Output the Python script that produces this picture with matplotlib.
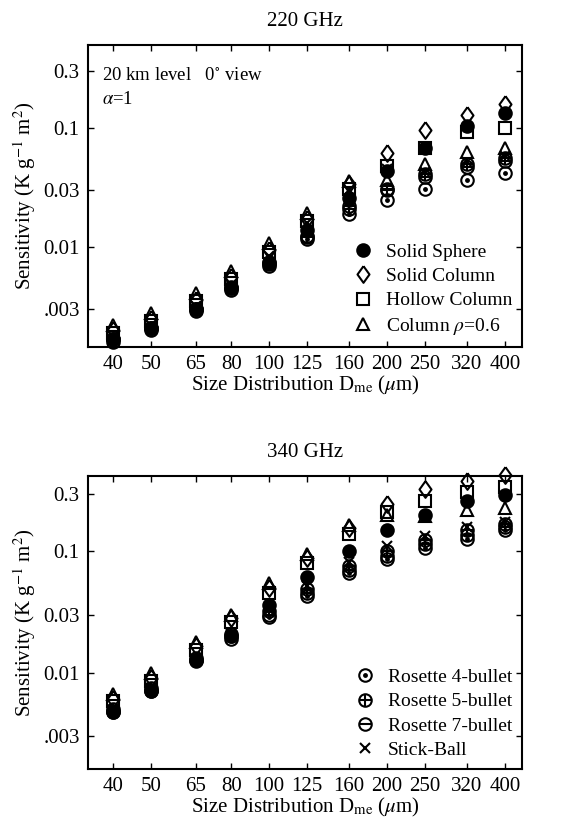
import matplotlib
matplotlib.use("Agg")
import matplotlib.pyplot as plt
from matplotlib.ticker import FixedLocator, FixedFormatter, NullLocator
from matplotlib.legend_handler import HandlerTuple

plt.rcParams['font.family'] = ['Liberation Serif', 'DejaVu Serif']
plt.rcParams['mathtext.fontset'] = 'stix'

sizes = [40, 50, 65, 80, 100, 125, 160, 200, 250, 320, 400]
xtick_labels = ['40', '50', '65', '80', '100', '125', '160', '200', '250', '320', '400']
ytick_vals = [0.003, 0.01, 0.03, 0.1, 0.3]
ytick_labels = ['.003', '0.01', '0.03', '0.1', '0.3']

# 220 GHz
s220_sphere = [0.0017, 0.0021, 0.0030, 0.0046, 0.0075, 0.0139, 0.026, 0.044, 0.068, 0.105, 0.135]
s220_solid_col = [0.0020, 0.0025, 0.0036, 0.0056, 0.0095, 0.0172, 0.034, 0.062, 0.096, 0.128, 0.160]
s220_hollow_col = [0.0019, 0.0024, 0.0035, 0.0054, 0.0092, 0.0165, 0.031, 0.048, 0.068, 0.092, 0.100]
s220_col_rho = [0.0022, 0.0028, 0.0041, 0.0063, 0.0108, 0.0193, 0.036, 0.037, 0.050, 0.063, 0.068]
s220_ros4 = [0.0016, 0.0020, 0.0029, 0.0044, 0.0070, 0.0118, 0.019, 0.025, 0.031, 0.037, 0.042]
s220_ros5 = [0.0017, 0.0021, 0.0030, 0.0045, 0.0073, 0.0125, 0.022, 0.031, 0.041, 0.050, 0.056]
s220_ros7 = [0.0017, 0.0021, 0.0030, 0.0045, 0.0072, 0.0122, 0.021, 0.030, 0.039, 0.047, 0.053]
s220_stick = [0.0018, 0.0022, 0.0032, 0.0048, 0.0085, 0.0160, 0.030, 0.045, 0.043, 0.052, 0.058]

# 340 GHz
s340_sphere = [0.0047, 0.0071, 0.0126, 0.020, 0.036, 0.061, 0.100, 0.150, 0.200, 0.260, 0.290]
s340_solid_col = [0.0060, 0.0090, 0.0165, 0.028, 0.050, 0.088, 0.155, 0.245, 0.330, 0.385, 0.430]
s340_hollow_col = [0.0058, 0.0086, 0.0155, 0.026, 0.045, 0.080, 0.140, 0.210, 0.260, 0.310, 0.340]
s340_col_rho = [0.0066, 0.0099, 0.0178, 0.030, 0.055, 0.095, 0.165, 0.200, 0.195, 0.220, 0.230]
s340_ros4 = [0.0047, 0.0070, 0.0125, 0.019, 0.029, 0.043, 0.066, 0.087, 0.107, 0.128, 0.150]
s340_ros5 = [0.0050, 0.0075, 0.0132, 0.021, 0.032, 0.049, 0.076, 0.100, 0.125, 0.150, 0.170]
s340_ros7 = [0.0048, 0.0072, 0.0128, 0.020, 0.030, 0.045, 0.070, 0.092, 0.115, 0.138, 0.158]
s340_stick = [0.0049, 0.0074, 0.0130, 0.021, 0.033, 0.052, 0.082, 0.110, 0.135, 0.160, 0.175]

diamond = [(0, 1), (0.72, 0), (0, -1), (-0.72, 0), (0, 1)]
ew = 1.5
ms = 9


def draw(ax, sph, scol, hcol, crho, r4, r5, r7, stick):
    h = {}
    kw = dict(linestyle='none', color='black', markeredgewidth=ew, clip_on=False)
    h['r4o'], = ax.plot(sizes, r4, marker='o', ms=ms, mfc='none', **kw)
    h['r4i'], = ax.plot(sizes, r4, marker='.', ms=4, **kw)
    h['r5o'], = ax.plot(sizes, r5, marker='o', ms=ms, mfc='none', **kw)
    h['r5i'], = ax.plot(sizes, r5, marker='+', ms=ms, **kw)
    h['r7o'], = ax.plot(sizes, r7, marker='o', ms=ms, mfc='none', **kw)
    h['r7i'], = ax.plot(sizes, r7, marker='_', ms=ms, **kw)
    h['stick'], = ax.plot(sizes, stick, marker='x', ms=7, **kw)
    h['crho'], = ax.plot(sizes, crho, marker='^', ms=ms, mfc='none', **kw)
    h['hcol'], = ax.plot(sizes, hcol, marker='s', ms=8.5, mfc='none', **kw)
    h['scol'], = ax.plot(sizes, scol, marker=diamond, ms=12, mfc='none', **kw)
    h['sph'], = ax.plot(sizes, sph, marker='o', ms=ms, mfc='black', **kw)
    ax.set_xscale('log')
    ax.set_yscale('log')
    ax.set_xlim(34.5, 442)
    ax.xaxis.set_major_locator(FixedLocator(sizes))
    ax.xaxis.set_major_formatter(FixedFormatter(xtick_labels))
    ax.xaxis.set_minor_locator(NullLocator())
    ax.yaxis.set_major_locator(FixedLocator(ytick_vals))
    ax.yaxis.set_major_formatter(FixedFormatter(ytick_labels))
    ax.yaxis.set_minor_locator(NullLocator())
    ax.tick_params(direction='in', length=4, width=1, top=True, right=True,
                   labelsize=15, pad=6)
    for s in ax.spines.values():
        s.set_linewidth(1.5)
    ax.set_xlabel('Size Distribution D$_{\\rm me}$ ($\\mu$m)', fontsize=15, labelpad=0)
    ax.set_ylabel('Sensitivity (K g$^{-1}$ m$^{2}$)', fontsize=15, labelpad=4)
    return h


fig = plt.figure(figsize=(5.63, 8.23), dpi=100)
ax1 = fig.add_axes([88 / 563, 1 - 347 / 823, 434 / 563, 302 / 823])
ax2 = fig.add_axes([88 / 563, 54 / 823, 434 / 563, 293 / 823])

h1 = draw(ax1, s220_sphere, s220_solid_col, s220_hollow_col, s220_col_rho,
          s220_ros4, s220_ros5, s220_ros7, s220_stick)
ax1.set_ylim(0.00145, 0.5)
ax1.set_title('220 GHz', fontsize=15, pad=14)
ax1.text(0.032, 0.9, '20 km level   0$^{\\circ}$ view', transform=ax1.transAxes,
         fontsize=13.5, va='center')
ax1.text(0.032, 0.82, '$\\alpha$=1', transform=ax1.transAxes, fontsize=13.5, va='center')
ax1.legend([h1['sph'], h1['scol'], h1['hcol'], h1['crho']],
           ['Solid Sphere', 'Solid Column', 'Hollow Column', 'Column $\\rho$=0.6'],
           loc='lower right', frameon=False, fontsize=14, handlelength=1.2,
           handletextpad=0.6, labelspacing=0.35, borderaxespad=0.1)

h2 = draw(ax2, s340_sphere, s340_solid_col, s340_hollow_col, s340_col_rho,
          s340_ros4, s340_ros5, s340_ros7, s340_stick)
ax2.set_ylim(0.0016, 0.42)
ax2.set_title('340 GHz', fontsize=15, pad=14)
ax2.legend([(h2['r4o'], h2['r4i']), (h2['r5o'], h2['r5i']), (h2['r7o'], h2['r7i']), h2['stick']],
           ['Rosette 4-bullet', 'Rosette 5-bullet', 'Rosette 7-bullet', 'Stick-Ball'],
           handler_map={tuple: HandlerTuple(ndivide=1)},
           loc='lower right', frameon=False, fontsize=14, handlelength=1.2,
           handletextpad=0.6, labelspacing=0.35, borderaxespad=0.1)

fig.savefig('out.png', dpi=100)
